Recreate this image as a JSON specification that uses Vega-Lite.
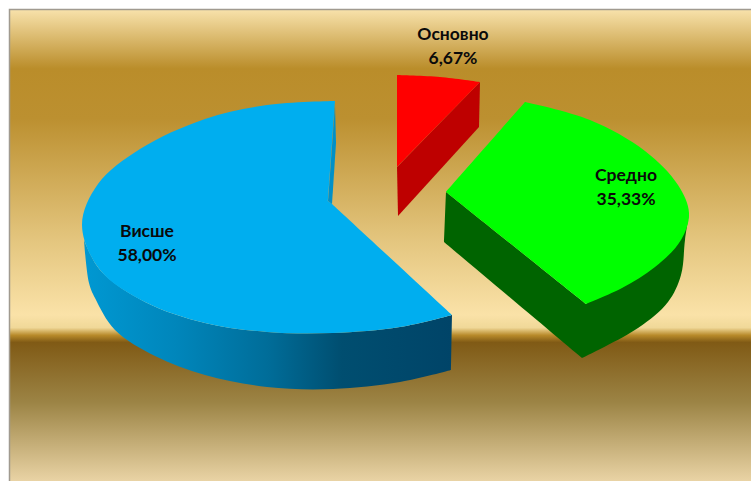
{"$schema":"https://vega.github.io/schema/vega-lite/v6.json","width":751,"height":481,"padding":0,"autosize":"none","background":"white","config":{"view":{"stroke":null}},
"datasets":{
"panel":[{"x":9.5,"x2":753,"y":9.5,"y2":483}],
"blueTop":[{"x":335,"y":101},{"x":335,"y":101},{"x":267,"y":105},{"x":205,"y":119},{"x":140,"y":149},{"x":98,"y":184},{"x":82,"y":225},{"x":100,"y":270},{"x":145,"y":302},{"x":205,"y":323},{"x":267,"y":332},{"x":333,"y":333},{"x":400,"y":327},{"x":452,"y":315},{"x":452,"y":315},{"x":332,"y":204},{"x":332,"y":204},{"x":328,"y":201},{"x":328,"y":201},{"x":335,"y":101},{"x":335,"y":101}],
"blueSide":[{"x":84,"y":240},{"x":84,"y":240},{"x":100,"y":270},{"x":145,"y":302},{"x":205,"y":323},{"x":267,"y":332},{"x":333,"y":333},{"x":400,"y":327},{"x":452,"y":315},{"x":452,"y":315},{"x":451,"y":370},{"x":451,"y":370},{"x":400,"y":382},{"x":333,"y":389},{"x":267,"y":387},{"x":205,"y":375},{"x":155,"y":356},{"x":115,"y":330},{"x":95,"y":298},{"x":89,"y":283},{"x":84,"y":240},{"x":84,"y":240}],
"blueWall":[{"x":335,"y":105},{"x":336,"y":143},{"x":332,"y":204},{"x":328,"y":201},{"x":335,"y":105}],
"redTop":[{"x":397,"y":75},{"x":397,"y":75},{"x":440,"y":77},{"x":480,"y":82},{"x":480,"y":82},{"x":397,"y":167},{"x":397,"y":167},{"x":397,"y":75},{"x":397,"y":75}],
"redSide":[{"x":480,"y":82},{"x":479,"y":127},{"x":398,"y":216},{"x":397,"y":167},{"x":480,"y":82}],
"greenSide":[{"x":446,"y":192},{"x":446,"y":192},{"x":586,"y":304},{"x":586,"y":304},{"x":689,"y":213},{"x":689,"y":213},{"x":685,"y":240},{"x":681,"y":275},{"x":668,"y":302},{"x":638,"y":328},{"x":582,"y":358},{"x":582,"y":358},{"x":444,"y":242},{"x":444,"y":242},{"x":446,"y":192},{"x":446,"y":192}],
"greenTop":[{"x":525,"y":102},{"x":525,"y":102},{"x":590,"y":120},{"x":645,"y":151},{"x":678,"y":185},{"x":689,"y":213},{"x":681,"y":240},{"x":655,"y":267},{"x":622,"y":288},{"x":586,"y":304},{"x":586,"y":304},{"x":446,"y":192},{"x":446,"y":192},{"x":525,"y":102},{"x":525,"y":102}],
"slices":[{"name":"Основно","share":6.67,"label":"Основно\n6,67%","x":453,"y":35},{"name":"Средно","share":35.33,"label":"Средно\n35,33%","x":626,"y":176},{"name":"Висше","share":58,"label":"Висше\n58,00%","x":147,"y":232}]
},
"encoding":{"x":{"field":"x","type":"quantitative","scale":{"domain":[0,751],"nice":false,"zero":false},"axis":null},"y":{"field":"y","type":"quantitative","scale":{"domain":[481,0],"nice":false,"zero":false},"axis":null}},
"layer":[
{"data":{"name":"panel"},"mark":{"type":"rect","stroke":"#a09a90","strokeWidth":1.5,"fill":{"gradient":"linear","x1":0,"y1":0,"x2":0,"y2":1,"stops":[{"offset":0,"color":"#f8e2ab"},{"offset":0.125,"color":"#ba8d2a"},{"offset":0.23,"color":"#bc9030"},{"offset":0.49,"color":"#e4c67f"},{"offset":0.645,"color":"#fae2a8"},{"offset":0.672,"color":"#f0d898"},{"offset":0.688,"color":"#b88a2a"},{"offset":0.703,"color":"#805a15"},{"offset":0.83,"color":"#9c8445"},{"offset":1,"color":"#ebd5a7"}]}},"encoding":{"x2":{"field":"x2"},"y2":{"field":"y2"}}},
{"data":{"name":"blueSide"},"mark":{"type":"line","filled":true,"interpolate":"catmull-rom","strokeWidth":0,"fill":{"gradient":"linear","x1":0,"y1":0,"x2":1,"y2":0,"stops":[{"offset":0,"color":"#0098d2"},{"offset":0.25,"color":"#0086bb"},{"offset":0.5,"color":"#006d99"},{"offset":0.7,"color":"#004e70"},{"offset":1,"color":"#004468"}]}},"encoding":{"order":{"value":null}}},
{"data":{"name":"blueTop"},"mark":{"type":"line","filled":true,"interpolate":"catmull-rom","strokeWidth":0,"fill":"#00aeef"},"encoding":{"order":{"value":null}}},
{"data":{"name":"blueWall"},"mark":{"type":"line","filled":true,"strokeWidth":0,"fill":"#0090c8"},"encoding":{"order":{"value":null}}},
{"data":{"name":"redSide"},"mark":{"type":"line","filled":true,"strokeWidth":0,"fill":"#be0000"},"encoding":{"order":{"value":null}}},
{"data":{"name":"redTop"},"mark":{"type":"line","filled":true,"interpolate":"catmull-rom","strokeWidth":0,"fill":"#ff0000"},"encoding":{"order":{"value":null}}},
{"data":{"name":"greenSide"},"mark":{"type":"line","filled":true,"interpolate":"catmull-rom","strokeWidth":0,"fill":"#006400"},"encoding":{"order":{"value":null}}},
{"data":{"name":"greenTop"},"mark":{"type":"line","filled":true,"interpolate":"catmull-rom","strokeWidth":0,"fill":"#00ff00"},"encoding":{"order":{"value":null}}},
{"data":{"name":"slices"},"mark":{"type":"text","font":"Lato","fontSize":17.5,"fontWeight":700,"color":"#0a0a0a","lineBreak":"\n","lineHeight":24,"align":"center","baseline":"middle"},"encoding":{"text":{"field":"label"}}}
]}
